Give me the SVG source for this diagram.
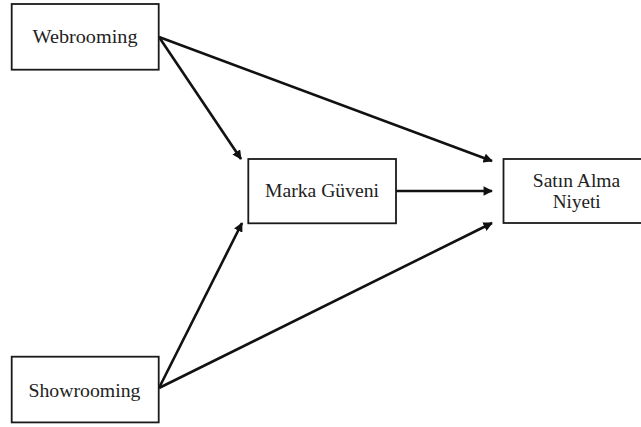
<svg xmlns="http://www.w3.org/2000/svg" width="641" height="427" viewBox="0 0 641 427">
<style>
.box{fill:#fff;stroke:#1a1a1a;stroke-width:1.8}
.lbl{font-family:"Liberation Serif","DejaVu Serif",serif;font-size:18.5px;fill:#222;text-anchor:middle}
.edge{stroke:#111;stroke-width:2.6;fill:none;marker-end:url(#ah)}
</style>
<defs>
<marker id="ah" viewBox="0 0 10 10" refX="9" refY="5" markerWidth="3.8" markerHeight="3.6" orient="auto" markerUnits="strokeWidth">
<path d="M0,0 L10,5 L0,10 z" fill="#111"/>
</marker>
</defs>
<rect width="641" height="427" fill="#fff"/>
<g id="connectors">
<line class="edge" x1="159" y1="37" x2="241" y2="159"/>
<line class="edge" x1="159" y1="37" x2="492" y2="161"/>
<line class="edge" x1="396" y1="191" x2="492" y2="191"/>
<line class="edge" x1="159" y1="388" x2="242" y2="223"/>
<line class="edge" x1="159" y1="388" x2="492" y2="223"/>
</g>
<g id="webrooming">
<rect class="box" x="11.7" y="4" width="147" height="65.7"/>
<text class="lbl" x="85" y="43.3" textLength="105" lengthAdjust="spacingAndGlyphs">Webrooming</text>
</g>
<g id="showrooming">
<rect class="box" x="11.7" y="356.7" width="147" height="65.7"/>
<text class="lbl" x="84.5" y="396.7" textLength="112" lengthAdjust="spacingAndGlyphs">Showrooming</text>
</g>
<g id="marka">
<rect class="box" x="248.3" y="159" width="147.7" height="64.3"/>
<text class="lbl" x="322" y="196.7" textLength="114" lengthAdjust="spacingAndGlyphs">Marka Güveni</text>
</g>
<g id="satin">
<rect class="box" x="503.5" y="159" width="150" height="64"/>
<text class="lbl" x="576.5" y="186.7" textLength="87.5" lengthAdjust="spacingAndGlyphs">Satın Alma</text>
<text class="lbl" x="576.7" y="208" textLength="48" lengthAdjust="spacingAndGlyphs">Niyeti</text>
</g>
</svg>
